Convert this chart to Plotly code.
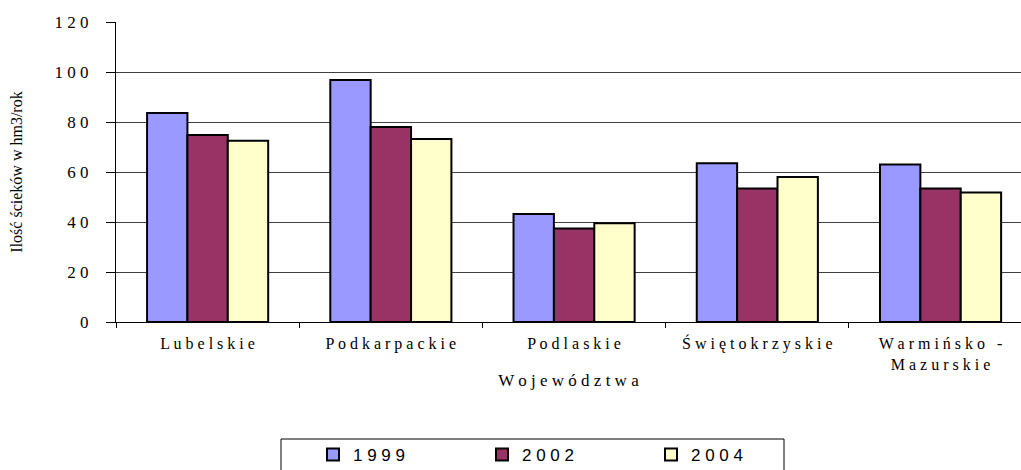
import plotly.graph_objects as go

categories = ["Lubelskie", "Podkarpackie", "Podlaskie", "Świętokrzyskie", "Warmińsko -<br>Mazurskie"]
years = ["1999", "2002", "2004"]
values_1999 = [83.6, 96.8, 43.2, 63.5, 63.0]
values_2002 = [74.8, 78.0, 37.4, 53.4, 53.4]
values_2004 = [72.5, 73.2, 39.5, 58.0, 51.8]
colors = ["#9999FF", "#993366", "#FFFFCC"]
y_ticks = [0, 20, 40, 60, 80, 100, 120]


def spaced(s):
    parts = s.split("<br>")
    return "<br>".join(" ".join(list(p)) for p in parts)


cat_labels = [spaced(c) for c in categories]
series = [values_1999, values_2002, values_2004]

W, H = 1021, 470
L, R, T, B = 116, 0, 22, 148
pw, ph = W - L - R, H - T - B


def px_x(x):
    return (x - L) / pw


def px_y(y):
    return (H - B - y) / ph


fig = go.Figure()
for name, vals, col in zip(years, series, colors):
    fig.add_trace(go.Bar(
        x=cat_labels, y=vals, name=spaced(name),
        marker=dict(color=col, line=dict(color="#000000", width=2)),
    ))

fig.update_layout(
    width=W, height=H,
    margin=dict(l=L, r=R, t=T, b=B, autoexpand=False),
    paper_bgcolor="white", plot_bgcolor="white",
    barmode="group", bargap=0.339, bargroupgap=0,
    font=dict(family="Liberation Serif, Times New Roman, serif", size=16, color="#000000"),
    showlegend=True,
    legend=dict(
        orientation="h", x=px_x(313), xanchor="left", y=px_y(455), yanchor="middle",
        bgcolor="rgba(0,0,0,0)", borderwidth=0,
        font=dict(family="Liberation Sans, Arial, sans-serif", size=17, color="#000000"),
        entrywidth=124, entrywidthmode="pixels", itemwidth=30,
        traceorder="normal",
    ),
    shapes=[dict(
        type="rect", xref="paper", yref="paper",
        x0=px_x(281), x1=px_x(784), y0=px_y(439), y1=px_y(490),
        line=dict(color="#000000", width=1), fillcolor="rgba(0,0,0,0)", layer="below",
    )],
)

fig.update_xaxes(
    type="category", range=[-0.5, 4.439],
    showline=True, linecolor="#000000", linewidth=1,
    ticks="outside", ticklen=5, tickcolor="#000000", tickson="boundaries",
    tickfont=dict(size=16), ticklabelstandoff=7,
    title=dict(text=spaced("Województwa"), font=dict(size=17), standoff=2),
    showgrid=False,
)
fig.update_yaxes(
    range=[0, 120], tickvals=y_ticks, ticktext=[spaced(str(v)) for v in y_ticks],
    showline=True, linecolor="#000000", linewidth=1,
    ticks="outside", ticklen=9, tickcolor="#000000",
    tickfont=dict(size=17), ticklabelstandoff=14,
    showgrid=True, gridcolor="#404040", gridwidth=1,
    zeroline=False,
    title=dict(text="Ilość ścieków w hm3/rok", font=dict(size=16), standoff=27),
)

fig.write_html(
    "out.html",
    config={"displayModeBar": False},
    post_script="document.body.style.margin='0';document.body.style.overflow='hidden';",
)
